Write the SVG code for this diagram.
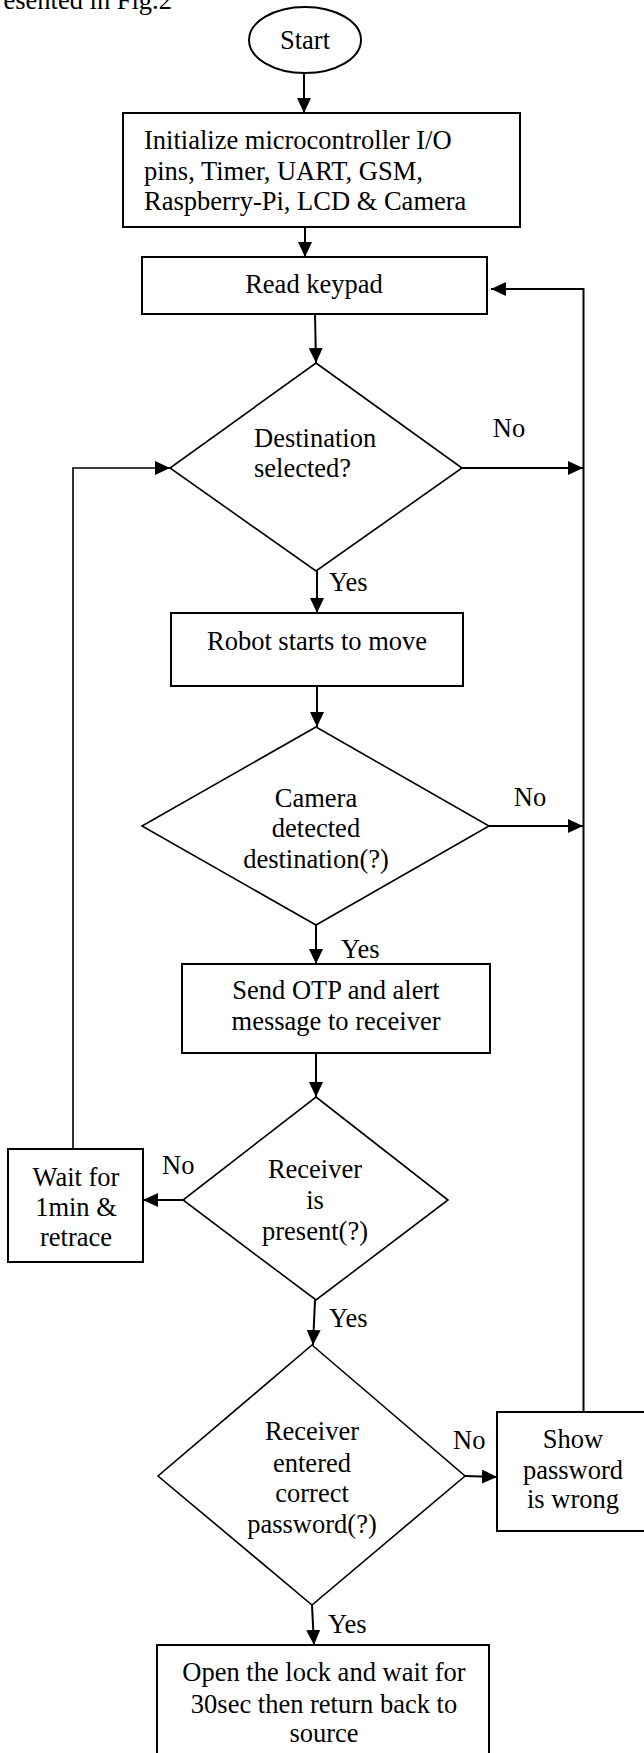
<svg xmlns="http://www.w3.org/2000/svg" width="644" height="1753" viewBox="0 0 644 1753">
<style>
text{font-family:"Liberation Serif","Times New Roman",serif;font-size:26.5px;fill:#000}
.c{text-anchor:middle}
.shape{fill:#fff;stroke:#000;stroke-width:2}
.dia{fill:#fff;stroke:#000;stroke-width:1.6}
.ln{fill:none;stroke:#000;stroke-width:2}
</style>
<defs>
<marker id="ah" markerUnits="userSpaceOnUse" markerWidth="15" markerHeight="14" refX="15" refY="7" orient="auto">
<path d="M0,0 L15,7 L0,14 z" fill="#000"/>
</marker>
</defs>
<rect x="0" y="0" width="644" height="1753" fill="#fff"/>
<text x="172" y="9" style="text-anchor:end">esented in Fig.2</text>

<g id="connectors">
<line class="ln" x1="304" y1="73" x2="304" y2="113" marker-end="url(#ah)"/>
<line class="ln" x1="305" y1="227" x2="305" y2="257" marker-end="url(#ah)"/>
<line class="ln" x1="315" y1="314" x2="316" y2="363" marker-end="url(#ah)"/>
<line class="ln" x1="317" y1="571" x2="317" y2="613" marker-end="url(#ah)"/>
<line class="ln" x1="317" y1="686" x2="317" y2="727" marker-end="url(#ah)"/>
<line class="ln" x1="316" y1="925" x2="316" y2="964" marker-end="url(#ah)"/>
<line class="ln" x1="316" y1="1053" x2="316" y2="1097" marker-end="url(#ah)"/>
<line class="ln" x1="315" y1="1300" x2="313" y2="1345" marker-end="url(#ah)"/>
<line class="ln" x1="312" y1="1605" x2="314" y2="1645" marker-end="url(#ah)"/>
<line class="ln" x1="462" y1="468" x2="583" y2="468" marker-end="url(#ah)"/>
<line class="ln" x1="489" y1="826" x2="583" y2="826" marker-end="url(#ah)"/>
<line class="ln" x1="183" y1="1200" x2="143" y2="1200" marker-end="url(#ah)"/>
<polyline class="ln" style="stroke-width:1.6" points="73,1149 73,468 170,468" marker-end="url(#ah)"/>
<line class="ln" x1="465" y1="1476" x2="497" y2="1477" marker-end="url(#ah)"/>
<polyline class="ln" points="583.5,1412 583.5,289 491,289" marker-end="url(#ah)"/>
</g>

<g id="start">
<ellipse class="shape" cx="305" cy="40" rx="56" ry="33"/>
<text class="c" x="305" y="49">Start</text>
</g>

<g id="init">
<rect class="shape" x="123" y="113" width="397" height="114"/>
<text x="144" y="149">Initialize microcontroller I/O</text>
<text x="144" y="180">pins, Timer, UART, GSM,</text>
<text x="144" y="210">Raspberry-Pi, LCD &amp; Camera</text>
</g>

<g id="read">
<rect class="shape" x="142" y="257" width="345" height="57"/>
<text class="c" x="314" y="293">Read keypad</text>
</g>

<g id="dest">
<polygon class="dia" points="316,363 462,468 316,571 170,468"/>
<text x="254" y="447">Destination</text>
<text x="254" y="477">selected?</text>
</g>

<g id="robot">
<rect class="shape" x="171" y="613" width="292" height="73"/>
<text class="c" x="317" y="650">Robot starts to move</text>
</g>

<g id="camera">
<polygon class="dia" points="316,727 489,826 316,925 142,826"/>
<text class="c" x="316" y="807">Camera</text>
<text class="c" x="316" y="837">detected</text>
<text class="c" x="316" y="868">destination(?)</text>
</g>

<g id="send">
<rect class="shape" x="182" y="964" width="308" height="89"/>
<text class="c" x="336" y="999">Send OTP and alert</text>
<text class="c" x="336" y="1030">message to receiver</text>
</g>

<g id="present">
<polygon class="dia" points="316,1097 448,1200 316,1300 183,1200"/>
<text class="c" x="315" y="1178">Receiver</text>
<text class="c" x="315" y="1209">is</text>
<text class="c" x="315" y="1240">present(?)</text>
</g>

<g id="wait">
<rect class="shape" x="8" y="1149" width="135" height="113"/>
<text class="c" x="76" y="1186">Wait for</text>
<text class="c" x="76" y="1216">1min &amp;</text>
<text class="c" x="76" y="1246">retrace</text>
</g>

<g id="password">
<polygon class="dia" points="312,1345 465,1476 312,1605 158,1476"/>
<text class="c" x="312" y="1440">Receiver</text>
<text class="c" x="312" y="1472">entered</text>
<text class="c" x="312" y="1502">correct</text>
<text class="c" x="312" y="1533">password(?)</text>
</g>

<g id="show">
<rect class="shape" x="497" y="1412" width="170" height="119"/>
<text class="c" x="573" y="1448">Show</text>
<text class="c" x="573" y="1479">password</text>
<text class="c" x="573" y="1508">is wrong</text>
</g>

<g id="open">
<rect class="shape" x="157" y="1645" width="332" height="130"/>
<text class="c" x="324" y="1681">Open the lock and wait for</text>
<text class="c" x="324" y="1713">30sec then return back to</text>
<text class="c" x="324" y="1742">source</text>
</g>

<g id="labels">
<text class="c" x="509" y="437">No</text>
<text x="329" y="591">Yes</text>
<text class="c" x="530" y="806">No</text>
<text x="341" y="958">Yes</text>
<text x="162" y="1174">No</text>
<text x="329" y="1327">Yes</text>
<text x="453" y="1449">No</text>
<text x="328" y="1633">Yes</text>
</g>
</svg>
